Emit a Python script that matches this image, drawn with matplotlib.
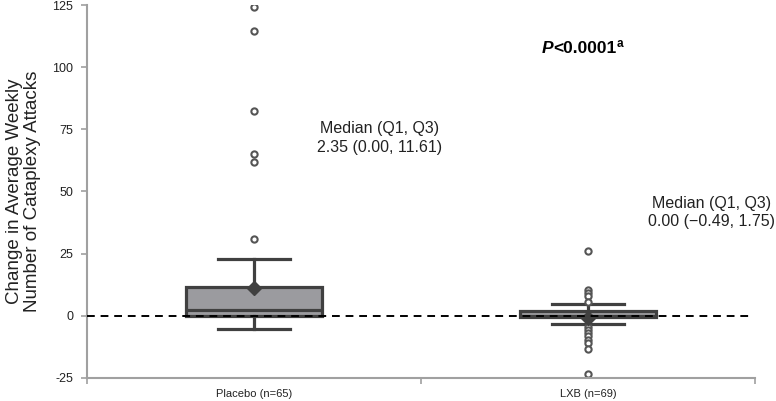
import matplotlib
matplotlib.use("Agg")
import matplotlib.pyplot as plt
from matplotlib.transforms import offset_copy
import numpy as np

plt.rcParams['font.family'] = ['Liberation Sans', 'DejaVu Sans']

# ---- data ----
categories = ["Placebo (n=65)", "LXB (n=69)"]
medians = [2.35, 0.00]
q1s = [0.00, -0.49]
q3s = [11.61, 1.75]
whisker_lo = [-5.2, -3.4]
whisker_hi = [23.0, 4.8]
means = [11.0, -0.7]
outliers_placebo = [124.2, 114.5, 82.3, 65.0, 61.7, 31.0]
outliers_lxb = [26.1, 10.4, 9.2, 7.8, 5.6, -4.4, -5.8, -7.1, -8.3, -9.7, -11.0, -13.4, -23.5]
annot_lines = ["Median (Q1, Q3)\n2.35 (0.00, 11.61)", "Median (Q1, Q3)\n0.00 (\u22120.49, 1.75)"]
y_ticks = [-25, 0, 25, 50, 75, 100, 125]

fig = plt.figure(figsize=(7.76, 4.01), dpi=100)
ax = fig.add_axes([0.112, 0.0574, 0.861, 0.9301])

outliers = [outliers_placebo, outliers_lxb]
stats = []
for i in range(2):
    stats.append(dict(med=medians[i], q1=q1s[i], q3=q3s[i],
                      whislo=whisker_lo[i], whishi=whisker_hi[i],
                      mean=means[i], fliers=outliers[i], label=categories[i]))

dark = '#404040'
positions = [1, 2]
ax.bxp(stats, positions=positions, widths=0.405, patch_artist=True,
       showmeans=True, showfliers=True,
       boxprops=dict(facecolor='#9b9b9f', edgecolor=dark, linewidth=2.3),
       medianprops=dict(color=dark, linewidth=2.3),
       whiskerprops=dict(color=dark, linewidth=2.3),
       capprops=dict(color=dark, linewidth=2.3),
       capwidths=0.216,
       meanprops=dict(marker='D', markerfacecolor=dark, markeredgecolor=dark, markersize=7),
       flierprops=dict(marker='o', markerfacecolor='white', markeredgecolor='#555555',
                       markersize=4.5, markeredgewidth=1.5))

ax.axhline(0, color='black', linestyle=(0, (4, 3)), linewidth=1.4, zorder=5,
           xmin=0, xmax=0.995)

ax.set_xlim(0.5, 2.5)
ax.set_ylim(-25, 125)
ax.set_yticks(y_ticks)
ax.set_yticklabels([str(t) for t in y_ticks], fontsize=9, color='#222222')
ax.set_xticks(positions)
ax.set_xticklabels(categories, fontsize=8, color='#222222')
ax.tick_params(axis='x', length=0, pad=8)
ax.set_xticks([0.5, 1.5, 2.5], minor=True)
ax.tick_params(axis='x', which='minor', length=4, color='#a0a0a0', width=1.2)
ax.tick_params(axis='y', length=4, color='#a0a0a0', width=1.2, direction='out', pad=6)

for s in ['top', 'right']:
    ax.spines[s].set_visible(False)
for s in ['left', 'bottom']:
    ax.spines[s].set_color('#a0a0a0')
    ax.spines[s].set_linewidth(1.5)

ax.set_ylabel("Change in Average Weekly\nNumber of Cataplexy Attacks", fontsize=13.5,
              color='#222222', labelpad=8, linespacing=1.1)

ax.text(1.375, 71.5, annot_lines[0], ha='center', va='center', fontsize=11.5,
        color='#222222', linespacing=1.3)
ax.text(2.37, 41.5, annot_lines[1], ha='center', va='center', fontsize=11.5,
        color='#222222', linespacing=1.3)

# P<0.0001^a built from pieces placed one after another
fig.canvas.draw()
renderer = fig.canvas.get_renderer()
px0, py0 = 1.86, 105.5
t1 = ax.text(px0, py0, "P", ha='left', va='baseline', fontsize=12.5,
             fontweight='bold', fontstyle='italic', color='black')
w1 = t1.get_window_extent(renderer).width
t2 = ax.text(px0, py0, "<0.0001", ha='left', va='baseline', fontsize=12.5,
             fontweight='bold', color='black',
             transform=offset_copy(ax.transData, fig=fig, x=w1 * 72 / fig.dpi, y=0, units='points'))
w2 = t2.get_window_extent(renderer).width
ax.text(px0, py0, "a", ha='left', va='baseline', fontsize=8.5, fontweight='bold',
        color='black',
        transform=offset_copy(ax.transData, fig=fig, x=(w1 + w2 + 1) * 72 / fig.dpi, y=4.5,
                              units='points'))

fig.savefig("out.png", dpi=100, facecolor='white')
